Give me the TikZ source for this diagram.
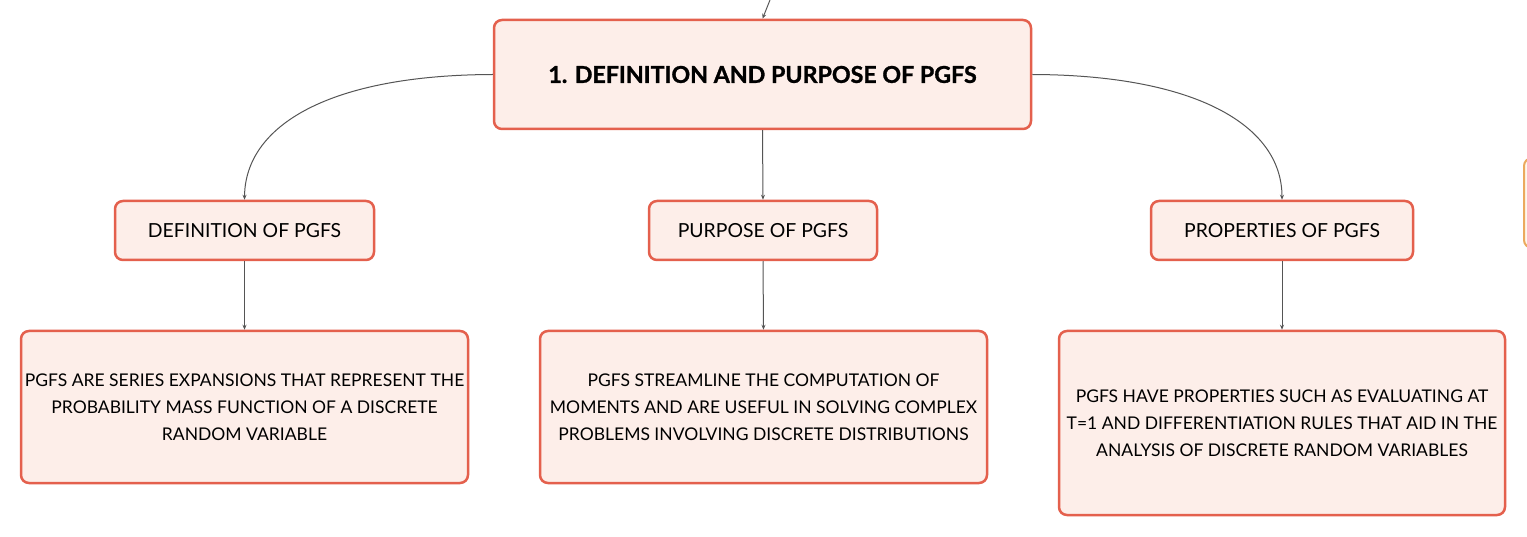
\documentclass[tikz,border=0pt]{standalone}
\usepackage{fontspec}
\setmainfont{Lato}
\newfontfamily\heavyfont{Lato}[UprightFont=*, BoldFont=*, BoldFeatures={FakeBold=1.6}, UprightFeatures={}]
\usetikzlibrary{arrows.meta}
\definecolor{bfill}{HTML}{FDEEE9}
\definecolor{bdraw}{HTML}{E4604D}
\definecolor{ldraw}{HTML}{555555}
\definecolor{obox}{HTML}{EBAA5E}
\definecolor{ofill}{HTML}{FFF8EE}
\begin{document}
\begin{tikzpicture}[x=1pt,y=-1pt,
  box/.style={draw=bdraw, fill=bfill, line width=2.5pt, rounded corners=8pt, inner sep=0pt, align=center, text=black},
  midtxt/.style={font=\fontsize{19.4}{27}\selectfont},
  leaftxt/.style={font=\fontsize{17.5}{27}\selectfont},
  conn/.style={draw=ldraw, line width=1pt, -{Stealth[length=5pt,width=4pt]}}]
\useasboundingbox[fill=white] (0,0) rectangle (1527,537);
\begin{scope}
  \clip (0,0) rectangle (1527,537);
  \draw[draw=obox, fill=ofill, line width=2pt, rounded corners=8pt] (1524,158) rectangle (1580,248);
\end{scope}
\node[box, minimum width=537pt, minimum height=109pt, font=\fontsize{23.2}{27}\selectfont\bfseries\addfontfeature{FakeBold=1.2}] (n0) at (762.5,74.5) {1. DEFINITION AND PURPOSE OF PGFS};
\node[box, midtxt, minimum width=259pt, minimum height=59pt] (d1) at (244.5,230.5) {DEFINITION OF PGFS};
\node[box, midtxt, minimum width=228pt, minimum height=59pt] (d2) at (763,230.5) {PURPOSE OF PGFS};
\node[box, midtxt, minimum width=262pt, minimum height=59pt] (d3) at (1282,230.5) {PROPERTIES OF PGFS};
\node[box, leaftxt, minimum width=447pt, minimum height=152pt] (l1) at (244.5,407) {PGFS ARE SERIES EXPANSIONS THAT REPRESENT THE\\PROBABILITY MASS FUNCTION OF A DISCRETE\\RANDOM VARIABLE};
\node[box, leaftxt, minimum width=447pt, minimum height=152pt] (l2) at (763.5,407) {PGFS STREAMLINE THE COMPUTATION OF\\MOMENTS AND ARE USEFUL IN SOLVING COMPLEX\\PROBLEMS INVOLVING DISCRETE DISTRIBUTIONS};
\node[box, leaftxt, minimum width=446pt, minimum height=184pt] (l3) at (1282,423) {PGFS HAVE PROPERTIES SUCH AS EVALUATING AT\\T=1 AND DIFFERENTIATION RULES THAT AID IN THE\\ANALYSIS OF DISCRETE RANDOM VARIABLES};
\coordinate (top) at (770,0);
\draw[conn] (top) -- (n0.north);
\draw[conn] (n0.west) .. controls (330,75) and (245,125) .. (d1.north);
\draw[conn] (n0.east) .. controls (1195,75) and (1282,125) .. (d3.north);
\draw[conn] (n0.south) -- (d2.north);
\draw[conn] (d1.south) -- (l1.north);
\draw[conn] (d2.south) -- (l2.north);
\draw[conn] (d3.south) -- (l3.north);
\end{tikzpicture}
\end{document}
